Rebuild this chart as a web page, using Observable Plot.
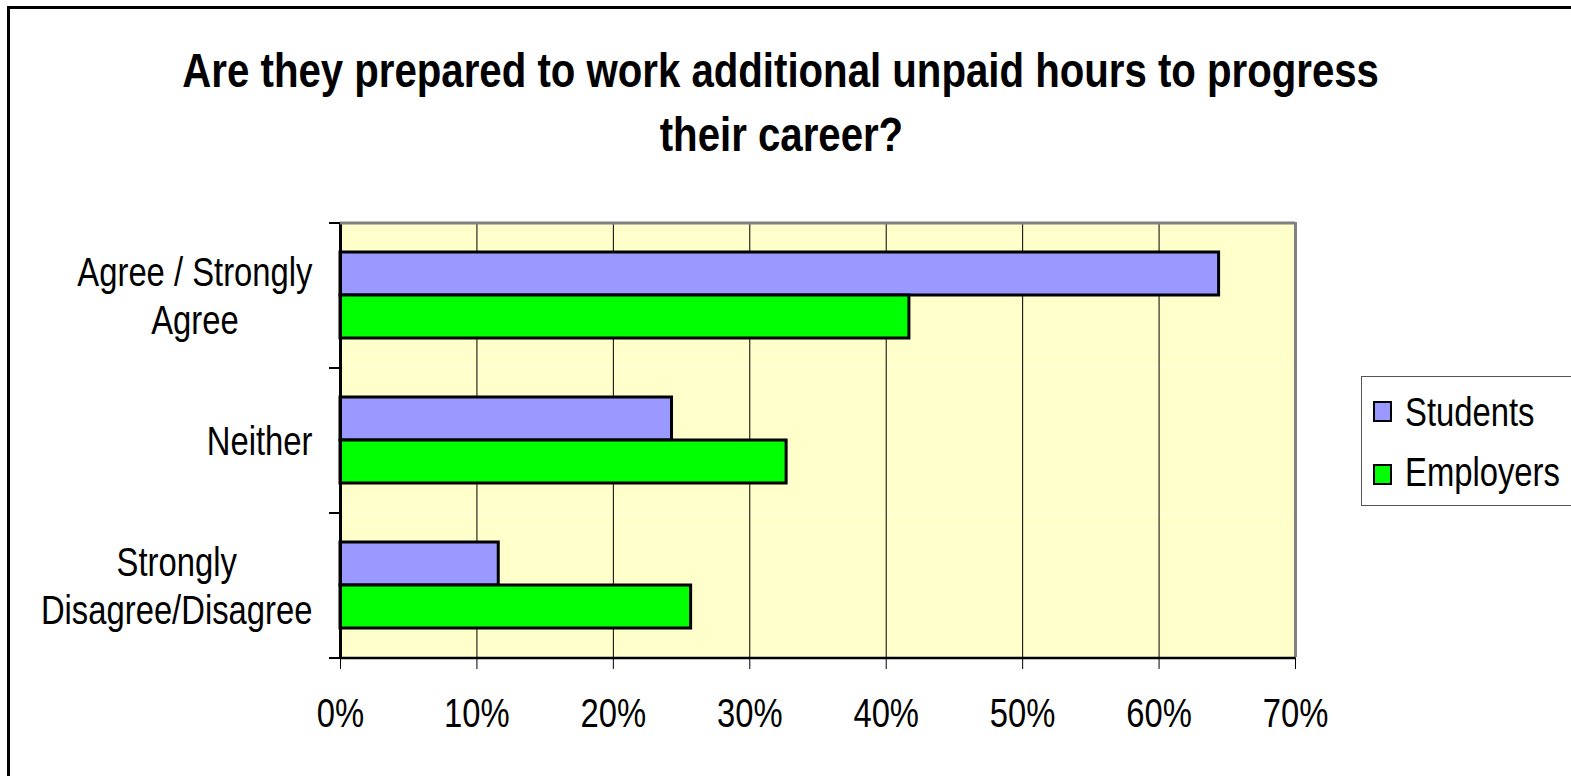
<!DOCTYPE html>
<html><head><meta charset="utf-8">
<script src="https://cdn.jsdelivr.net/npm/d3@7"></script>
<script src="https://cdn.jsdelivr.net/npm/@observablehq/plot@0.6"></script>
<style>
body{margin:0;background:#fff;}
#page{position:relative;width:1571px;height:776px;overflow:hidden;font-family:'Liberation Sans',Arial,sans-serif;color:#000;}
#border{position:absolute;left:7px;top:6px;width:1600px;height:800px;border-top:3px solid #000;border-left:3px solid #000;}
#title{position:absolute;left:0;top:38px;width:1562px;text-align:center;font-weight:bold;font-size:49px;line-height:64px;}
#title span{display:inline-block;transform:scaleX(0.82);transform-origin:center;white-space:nowrap;}
#chart{position:absolute;left:0;top:190px;}
#legend{position:absolute;left:1361px;top:376px;width:240px;height:128px;border:1px solid #555;background:#fff;}
.item{position:absolute;left:43px;font-size:40px;line-height:40px;white-space:nowrap;transform:scaleX(0.82);transform-origin:left center;}
.sw{position:absolute;left:11px;width:15px;height:17px;border:2px solid #000;}
</style></head>
<body>
<div id="page">
  <div id="border"></div>
  <div id="title"><span>Are they prepared to work additional unpaid hours to progress</span><br><span>their career?</span></div>
  <div id="chart"></div>
  <div id="legend"></div>
</div>
<script>
const categories = ["Agree / Strongly Agree", "Neither", "Strongly Disagree/Disagree"];
const categoryLines = [["Agree / Strongly", "Agree"], ["Neither"], ["Strongly", "Disagree/Disagree"]];
const series = ["Students", "Employers"];
const students = [0.644, 0.243, 0.116];
const employers = [0.417, 0.327, 0.257];
const xTicks = [0, 0.1, 0.2, 0.3, 0.4, 0.5, 0.6, 0.7];
const gridTicks = [0.1, 0.2, 0.3, 0.4, 0.5, 0.6];
const colors = ["#9999FF", "#00FF00"];

const rows = categories.flatMap((c, i) => [
  {category: c, series: series[0], value: students[i]},
  {category: c, series: series[1], value: employers[i]}
]);

const W = 1571, H = 586, mT = 32, mB = 119, mL = 340, mR = 276;
const bw = (H - mT - mB) / categories.length;
const po = 0.686;
const step = bw / (series.length + 2 * po);
const edge = (po + 0.5) * step; // from a band centre to the facet edge
const xMax = 0.7;
const tickLen = 11 * xMax / (W - mL - mR);
const squeeze = 0.82;
const font = "'Liberation Sans', Arial, sans-serif";

const ctx = document.createElement("canvas").getContext("2d");
ctx.font = "40px " + font;
const labelMarks = categories.map((c, i) => {
  const w = squeeze * d3.max(categoryLines[i], s => ctx.measureText(s).width);
  return Plot.text([c], {
    fy: d => d, text: () => categoryLines[i].join("\n"),
    frameAnchor: "left", textAnchor: "middle", lineAnchor: "middle", lineHeight: 1.2,
    dx: -(28 + w / 2), fontSize: 40, fill: "#000"
  });
});
const first = [categories[0]], last = [categories[categories.length - 1]];

const chart = Plot.plot({
  width: W, height: H,
  marginTop: mT, marginBottom: mB, marginLeft: mL, marginRight: mR,
  style: {fontFamily: font, fontSize: "40px", color: "#000", background: "transparent", overflow: "visible"},
  x: {domain: [0, xMax], ticks: xTicks, tickFormat: d3.format(".0%"), tickSize: 12, tickPadding: 29, label: null},
  y: {domain: series, paddingInner: 0, paddingOuter: po, axis: null},
  fy: {domain: categories, padding: 0, axis: null},
  color: {domain: series, range: colors},
  marks: [
    Plot.frame({fill: "#FFFFCC", stroke: "none"}),
    Plot.ruleX(gridTicks, {stroke: "#000", strokeWidth: 1}),
    Plot.barX(rows, {x: "value", y: "series", fy: "category", fill: "series", stroke: "#000", strokeWidth: 3}),
    Plot.ruleX([xMax], {stroke: "#808080", strokeWidth: 3}),
    Plot.ruleX([0], {stroke: "#000", strokeWidth: 3}),
    Plot.ruleY(first, {fy: d => d, y: () => series[0], x1: 0, x2: xMax, dy: -edge, stroke: "#808080", strokeWidth: 3}),
    Plot.ruleY(last, {fy: d => d, y: () => series[1], x1: 0, x2: xMax, dy: edge, stroke: "#000", strokeWidth: 2.5}),
    Plot.ruleY(categories, {fy: d => d, y: () => series[0], x1: -tickLen, x2: 0, dy: -edge, stroke: "#000", strokeWidth: 2}),
    Plot.ruleY(last, {fy: d => d, y: () => series[1], x1: -tickLen, x2: 0, dy: edge, stroke: "#000", strokeWidth: 2}),
    ...labelMarks
  ]
});
// horizontally condense the text (the reference uses a narrow face)
chart.querySelectorAll("text").forEach(t => {
  const x = +(t.getAttribute("x") || 0);
  const tr = t.getAttribute("transform") || "";
  t.setAttribute("transform", `${tr} translate(${x},0) scale(${squeeze},1) translate(${-x},0)`);
});
document.getElementById("chart").appendChild(chart);

const legend = document.getElementById("legend");
const tops = [{sw: 24, tx: 15}, {sw: 87, tx: 75}];
series.forEach((s, i) => {
  const sw = document.createElement("div");
  sw.className = "sw"; sw.style.top = tops[i].sw + "px"; sw.style.background = colors[i];
  legend.appendChild(sw);
  const t = document.createElement("div");
  t.className = "item"; t.style.top = tops[i].tx + "px"; t.textContent = s;
  legend.appendChild(t);
});
</script>
</body></html>
